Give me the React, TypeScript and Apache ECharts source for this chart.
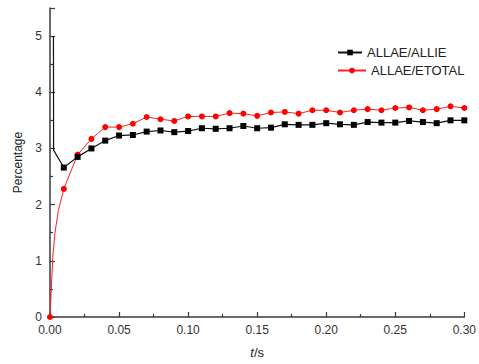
import React, { useEffect, useRef } from "react";
import * as echarts from "echarts";

// time (s) for the sampled points
const tValues = [0.00, 0.01, 0.02, 0.03, 0.04, 0.05, 0.06, 0.07, 0.08, 0.09, 0.10, 0.11, 0.12, 0.13, 0.14, 0.15, 0.16, 0.17, 0.18, 0.19, 0.20, 0.21, 0.22, 0.23, 0.24, 0.25, 0.26, 0.27, 0.28, 0.29, 0.30];

// ALLAE/ALLIE (t = 0.01 ... 0.30)
const allieValues = [2.66, 2.85, 3.00, 3.14, 3.23, 3.24, 3.30, 3.32, 3.29, 3.31, 3.36, 3.35, 3.36, 3.40, 3.36, 3.37, 3.43, 3.42, 3.42, 3.45, 3.43, 3.42, 3.47, 3.46, 3.46, 3.49, 3.47, 3.45, 3.50, 3.50];
// early transient of ALLAE/ALLIE (unmarked samples)
const allieEarlyT = [0.0025, 0.0026];
const allieEarly = [5.0, 2.97];

// ALLAE/ETOTAL (t = 0.00 ... 0.30)
const etotalValues = [0, 2.28, 2.89, 3.17, 3.38, 3.38, 3.44, 3.56, 3.52, 3.49, 3.57, 3.57, 3.57, 3.63, 3.62, 3.58, 3.64, 3.65, 3.62, 3.68, 3.68, 3.64, 3.68, 3.70, 3.68, 3.72, 3.73, 3.68, 3.70, 3.75, 3.72];
// early rise of ALLAE/ETOTAL (unmarked samples)
const etotalEarlyT = [0.002, 0.0036, 0.006];
const etotalEarly = [1.06, 1.5, 1.89];

const seriesNames = ["ALLAE/ALLIE", "ALLAE/ETOTAL"];

export default function App() {
  const ref = useRef<HTMLDivElement>(null);
  useEffect(() => {
    if (!ref.current) return;
    const chart = echarts.init(ref.current, null, { renderer: "svg" });

    const allieData: any[] = [];
    allieEarlyT.forEach((t, i) =>
      allieData.push({ value: [t, allieEarly[i]], symbol: "none" })
    );
    allieValues.forEach((v, i) => allieData.push({ value: [tValues[i + 1], v] }));

    const etotalData: any[] = [];
    etotalData.push({ value: [tValues[0], etotalValues[0]] });
    etotalEarlyT.forEach((t, i) =>
      etotalData.push({ value: [t, etotalEarly[i]], symbol: "none" })
    );
    etotalValues.slice(1).forEach((v, i) => etotalData.push({ value: [tValues[i + 1], v] }));

    const axisColor = "#3a3a3a";
    const font = "Liberation Sans, Arial, sans-serif";

    chart.setOption({
      animation: false,
      backgroundColor: "#ffffff",
      grid: { left: 50, right: 11, top: 8, bottom: 44, containLabel: false },
      legend: [
        {
          data: [seriesNames[0]],
          left: 337,
          top: 46,
          padding: 0,
          itemWidth: 24,
          itemHeight: 7,
          textStyle: { fontSize: 13, color: "#222", fontFamily: font },
        },
        {
          data: [seriesNames[1]],
          left: 337,
          top: 64,
          padding: 0,
          itemWidth: 28,
          itemHeight: 7,
          textStyle: { fontSize: 13, color: "#222", fontFamily: font },
        },
      ],
      xAxis: {
        type: "value",
        min: 0,
        max: 0.3,
        interval: 0.05,
        name: "{i|t}/s",
        nameLocation: "middle",
        nameGap: 29,
        nameTextStyle: {
          fontSize: 13,
          color: "#222",
          fontFamily: font,
          rich: { i: { fontStyle: "italic", fontSize: 13, color: "#222", fontFamily: font } },
        },
        axisLine: { show: true, onZero: false, lineStyle: { color: axisColor, width: 1.5 } },
        axisTick: { show: true, inside: true, length: 5, lineStyle: { color: axisColor, width: 1.2 } },
        minorTick: { show: true, splitNumber: 2, length: 3, lineStyle: { color: axisColor, width: 1.2 } },
        splitLine: { show: false },
        axisLabel: {
          margin: 7,
          fontSize: 12,
          color: "#333",
          fontFamily: font,
          formatter: (v: number) => v.toFixed(2),
        },
      },
      yAxis: {
        type: "value",
        min: 0,
        max: 5.5,
        interval: 1,
        name: "Percentage",
        nameLocation: "middle",
        nameGap: 22,
        nameTextStyle: { fontSize: 12, color: "#222", fontFamily: font },
        axisLine: { show: true, onZero: false, lineStyle: { color: axisColor, width: 1.5 } },
        axisTick: { show: true, inside: true, length: 5, lineStyle: { color: axisColor, width: 1.2 } },
        minorTick: { show: true, splitNumber: 2, length: 3, lineStyle: { color: axisColor, width: 1.2 } },
        splitLine: { show: false },
        axisLabel: {
          margin: 8,
          fontSize: 12,
          color: "#333",
          fontFamily: font,
          showMaxLabel: false,
        },
      },
      series: [
        {
          name: seriesNames[0],
          type: "line",
          data: allieData,
          symbol: "rect",
          symbolSize: 6,
          clip: false,
          itemStyle: { color: "#000" },
          lineStyle: { color: "#111", width: 1.2 },
          z: 3,
        },
        {
          name: seriesNames[1],
          type: "line",
          data: etotalData,
          symbol: "circle",
          symbolSize: 6,
          clip: false,
          itemStyle: { color: "#ff0000" },
          lineStyle: { color: "#ff2020", width: 1 },
          z: 2,
        },
      ],
    });
    return () => chart.dispose();
  }, []);

  return (
    <div
      ref={ref}
      style={{ position: "fixed", left: 0, top: 0, width: 479, height: 364, background: "#fff" }}
    />
  );
}
